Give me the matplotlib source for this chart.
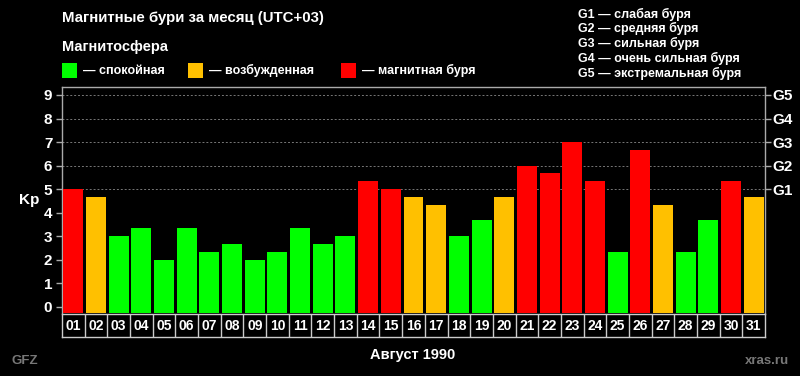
import matplotlib
matplotlib.use("Agg")
import matplotlib.pyplot as plt
from matplotlib.patches import Rectangle

plt.rcParams['font.family'] = ['Liberation Sans', 'DejaVu Sans']
plt.rcParams['font.weight'] = 'bold'

days = ["01","02","03","04","05","06","07","08","09","10","11","12","13","14","15","16",
        "17","18","19","20","21","22","23","24","25","26","27","28","29","30","31"]
kp = [5.0, 4.67, 3.0, 3.33, 2.0, 3.33, 2.33, 2.67, 2.0, 2.33, 3.33, 2.67, 3.0, 5.33, 5.0, 4.67,
      4.33, 3.0, 3.67, 4.67, 6.0, 5.67, 7.0, 5.33, 2.33, 6.67, 4.33, 2.33, 3.67, 5.33, 4.67]
state = ["s","a","q","q","q","q","q","q","q","q","q","q","q","s","s","a",
         "a","q","q","a","s","s","s","s","q","s","a","q","q","s","a"]
state_colors = {"q": "#00ff00", "a": "#ffc000", "s": "#ff0000"}
legend_labels = ["— спокойная", "— возбужденная", "— магнитная буря"]
g_labels = ["G1", "G2", "G3", "G4", "G5"]
g_levels = [5, 6, 7, 8, 9]
g_desc = ["G1 — слабая буря", "G2 — средняя буря", "G3 — сильная буря",
          "G4 — очень сильная буря", "G5 — экстремальная буря"]
yticks = list(range(0, 10))

W, H = 800, 376
fig = plt.figure(figsize=(W/100, H/100), dpi=100, facecolor="black")

def fx(px): return px / W
def fy(py): return 1 - py / H

ax_l, ax_r, ax_t, ax_b = 62, 765, 87, 313
ax = fig.add_axes([fx(ax_l), fy(ax_b), (ax_r-ax_l)/W, (ax_b-ax_t)/H])
ax.set_facecolor("black")
ybot = -0.27
ax.set_ylim(ybot, 9.34)
ax.set_xlim(0.5, 31.5)
x = list(range(1, 32))
for xi, v, s in zip(x, kp, state):
    ax.bar(xi, v - ybot, bottom=ybot, width=0.88, color=state_colors[s], zorder=3)
for g in g_levels:
    ax.axhline(g, color="#777777", lw=0.7, ls=(0, (2, 2)), zorder=1)
for sp in ax.spines.values():
    sp.set_color("#aaaaaa")
    sp.set_linewidth(1.0)
ax.spines["bottom"].set_visible(False)
ax.set_xticks([])
ax.set_yticks(yticks)
ax.set_yticklabels([str(t) for t in yticks], color="white", fontsize=11, fontweight="bold")
ax.tick_params(axis="y", colors="#aaaaaa", length=4, width=1, pad=3, labelcolor="white")
ax2 = ax.twinx()
ax2.set_ylim(ax.get_ylim())
ax2.set_yticks(g_levels)
ax2.set_yticklabels(g_labels, color="white", fontsize=11, fontweight="bold")
ax2.tick_params(axis="y", colors="#aaaaaa", length=4, width=1, pad=1.5, labelcolor="white")
for sp in ax2.spines.values():
    sp.set_visible(False)

# date row
dax = fig.add_axes([fx(ax_l), fy(337), (ax_r-ax_l)/W, (337-314)/H])
dax.set_facecolor("black")
dax.set_xlim(0.5, 31.5)
dax.set_ylim(0, 1)
dax.set_xticks([]); dax.set_yticks([])
for sp in dax.spines.values():
    sp.set_color("#cccccc"); sp.set_linewidth(1.0)
for i in range(1, 31):
    dax.axvline(i + 0.5, color="#cccccc", lw=1.0)
for xi, d in zip(x, days):
    dax.text(xi, 0.48, d, ha="center", va="center", color="white", fontsize=10, fontweight="bold")

# texts
fig.text(fx(62), fy(18), "Магнитные бури за месяц (UTC+03)", color="white", fontsize=10.8,
         fontweight="bold", ha="left", va="center")
fig.text(fx(62), fy(47), "Магнитосфера", color="white", fontsize=10.5, fontweight="bold",
         ha="left", va="center")
sq_x = [62, 188, 341]
for sx, col, lab in zip(sq_x, ["q", "a", "s"], legend_labels):
    fig.patches.append(Rectangle((fx(sx), fy(78)), 15/W, 15/H, transform=fig.transFigure,
                                 facecolor=state_colors[col], edgecolor="none"))
    fig.text(fx(sx + 21), fy(70.5), lab, color="white", fontsize=9, fontweight="bold",
             ha="left", va="center")
g_y = [14, 28.5, 43, 58, 73]
for gy, t in zip(g_y, g_desc):
    fig.text(fx(578), fy(gy), t, color="white", fontsize=9, fontweight="bold",
             ha="left", va="center")
fig.text(fx(29), fy(200), "Kp", color="white", fontsize=11, fontweight="bold",
         ha="center", va="center")
fig.text(fx(413), fy(355), "Август 1990", color="white", fontsize=10.5, fontweight="bold",
         ha="center", va="center")
fig.text(fx(12), fy(361), "GFZ", color="#777777", fontsize=9.5, fontweight="bold",
         ha="left", va="center")
fig.text(fx(789), fy(361), "xras.ru", color="#777777", fontsize=9.5, fontweight="bold",
         ha="right", va="center")

fig.savefig("out.png", dpi=100, facecolor="black")
